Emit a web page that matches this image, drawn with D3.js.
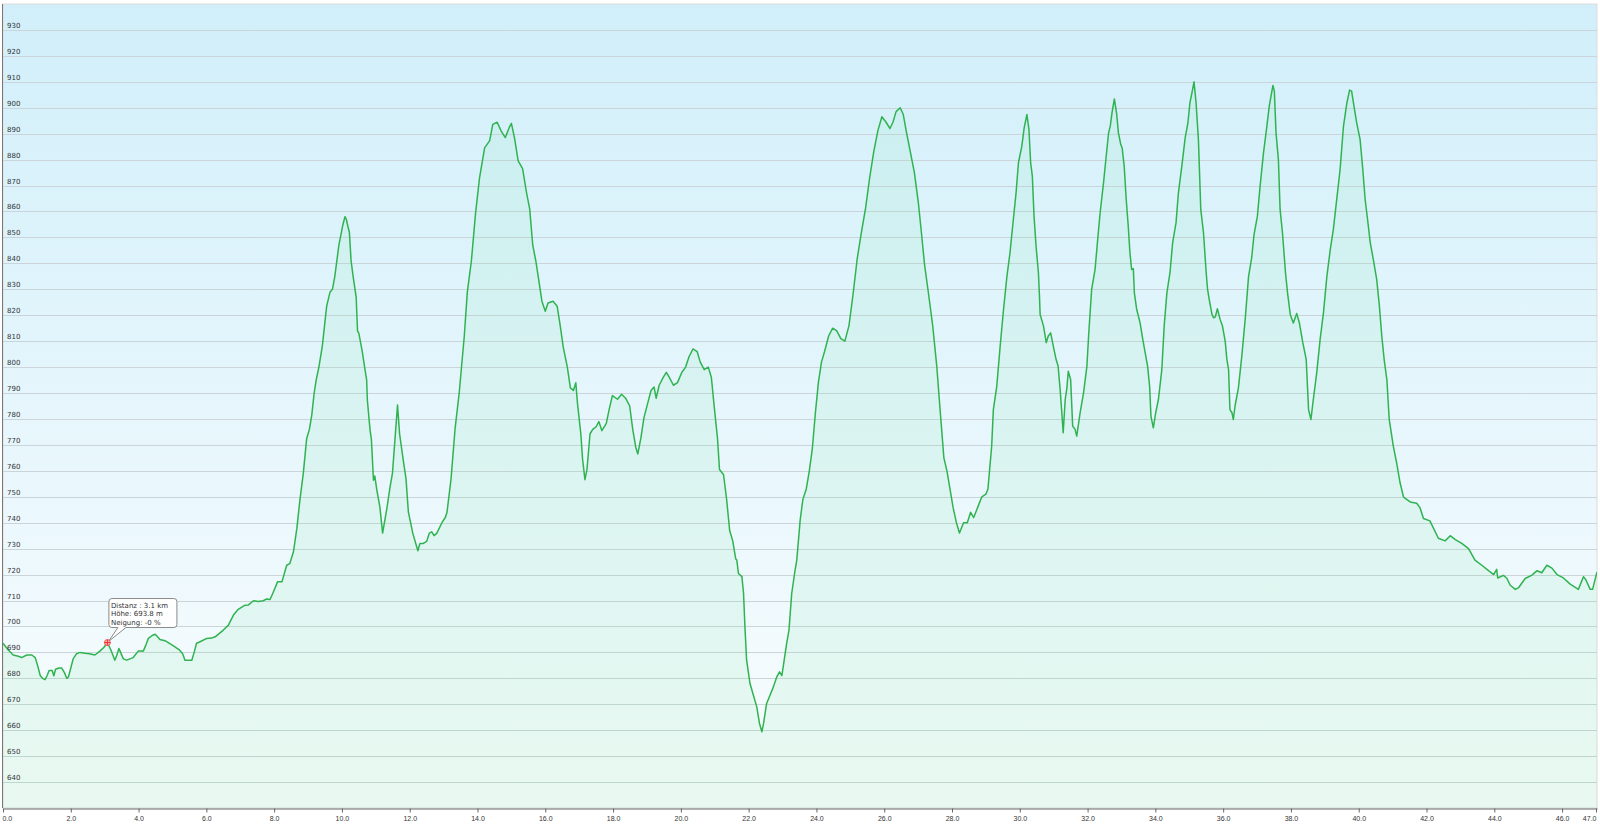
<!DOCTYPE html>
<html>
<head>
  <meta charset="utf-8" />
  <script src="https://cdn.jsdelivr.net/npm/d3@7/dist/d3.min.js"></script>
  <style>
    body { margin: 0; background: #fff; }
    svg { display: block; font-family: Verdana, "DejaVu Sans", sans-serif; }
    .grid line { stroke: #cbd5d9; stroke-width: 1; }
    .ylab { font-size: 7px; fill: #333; }
    .xaxis text { font-size: 7px; fill: #333; }
    .xaxis line, .xaxis path { stroke: #666; }
    .tip text { font-size: 7px; fill: #333; }
  </style>
</head>
<body>
  <svg id="chart" width="1600" height="824"></svg>
  <script>
  // distance along the track (km)
  var distKm = [
    0.00,0.15,0.30,0.45,0.55,0.70,0.85,0.95,1.02,1.10,1.17,1.24,1.30,1.36,1.45,1.50,1.55,1.65,1.73,1.82,1.88,1.93,
    2.00,2.07,2.17,2.27,2.42,2.55,2.71,2.86,2.98,3.08,3.18,3.24,3.30,3.36,3.42,3.47,3.55,3.65,3.84,3.99,
    4.14,4.22,4.29,4.40,4.49,4.56,4.63,4.78,5.03,5.20,5.30,5.37,5.57,5.64,5.71,5.80,
    6.01,6.15,6.26,6.50,6.65,6.80,6.94,7.14,7.24,7.39,7.53,7.68,7.78,7.88,7.98,8.10,8.23,8.37,8.46,8.57,8.67,8.76,8.86,8.96,
    9.04,9.11,9.18,9.24,9.32,9.42,9.55,9.65,9.72,9.79,9.91,10.03,10.09,10.13,10.18,10.22,10.27,10.33,10.42,10.46,10.50,10.60,10.67,
    10.73,10.75,10.83,10.87,10.93,10.97,11.03,11.12,11.20,11.32,11.42,11.49,11.57,11.64,11.70,11.81,11.89,11.96,
    12.09,12.24,12.30,12.40,12.50,12.58,12.65,12.72,12.80,12.95,13.05,13.10,13.22,13.34,13.46,13.61,13.70,13.82,13.94,
    14.06,14.21,14.36,14.45,14.58,14.70,14.82,14.94,15.00,15.09,15.20,15.33,15.45,15.54,15.63,15.72,15.81,15.90,
    16.00,16.08,16.23,16.35,16.44,16.53,16.65,16.74,16.83,16.90,16.95,17.05,17.10,17.17,17.23,17.32,17.40,17.50,17.58,17.67,17.80,17.89,17.98,
    18.13,18.25,18.37,18.49,18.58,18.67,18.73,18.82,18.91,19.03,19.12,19.21,19.27,19.36,19.48,19.57,19.66,19.78,19.90,
    20.03,20.14,20.24,20.36,20.48,20.57,20.69,20.81,20.90,20.99,21.08,21.14,21.26,21.35,21.44,21.53,21.62,
    21.65,21.70,21.80,21.85,21.89,21.94,22.04,22.14,22.24,22.32,22.39,22.44,22.53,22.63,22.73,22.83,22.91,22.98,
    23.02,23.12,23.19,23.27,23.37,23.42,23.52,23.60,23.70,23.79,23.88,23.97,24.06,24.15,24.24,24.36,24.48,24.60,24.72,24.84,24.96,
    25.08,25.20,25.32,25.45,25.57,25.69,25.81,25.93,26.05,26.17,26.26,26.35,26.47,26.56,26.65,26.77,26.89,
    27.01,27.10,27.19,27.31,27.43,27.55,27.64,27.76,27.85,27.94,28.03,28.13,28.22,28.34,28.45,28.55,28.64,28.76,28.88,
    29.00,29.06,29.12,29.17,29.22,29.32,29.42,29.52,29.62,29.71,29.81,29.89,29.96,30.06,30.13,30.21,30.27,30.32,30.37,30.42,30.48,30.55,30.58,30.60,
    30.70,30.78,30.84,30.91,30.99,31.07,31.13,31.19,31.24,31.28,31.34,31.39,31.43,31.50,31.56,31.63,31.68,31.78,31.88,31.98,
    32.03,32.12,32.22,32.29,32.37,32.47,32.57,32.62,32.67,32.72,32.79,32.86,32.91,32.98,33.02,33.08,33.14,33.20,33.25,33.30,33.35,33.38,33.45,
    33.55,33.63,33.70,33.77,33.83,33.87,33.94,34.01,34.09,34.19,34.26,34.34,34.43,34.51,34.61,34.68,34.78,34.88,34.96,
    35.02,35.08,35.14,35.20,35.27,35.34,35.42,35.50,35.54,35.59,35.67,35.72,35.77,35.83,35.91,35.98,36.06,36.11,36.16,36.20,36.26,36.30,36.35,
    36.45,36.55,36.65,36.75,36.84,36.91,37.01,37.09,37.19,37.29,37.36,37.43,37.47,37.51,37.56,37.63,37.68,37.75,37.84,37.90,37.98,
    38.07,38.17,38.25,38.35,38.45,38.52,38.59,38.66,38.76,38.86,38.96,39.06,39.16,39.25,39.35,39.45,39.55,39.65,39.73,39.79,39.86,39.94,
    40.04,40.12,40.19,40.26,40.34,40.43,40.53,40.61,40.68,40.75,40.83,40.90,41.02,41.12,41.22,41.32,41.37,41.52,41.71,41.81,41.91,
    42.10,42.35,42.55,42.70,42.85,43.04,43.24,43.43,43.63,43.83,43.98,44.07,44.10,44.27,44.37,44.47,44.62,44.72,44.91,
    45.11,45.26,45.40,45.55,45.70,45.85,46.04,46.24,46.48,46.63,46.70,46.83,46.90,47.03
  ];

  // elevation (m)
  var heightM = [
    693.5,691,689,688.5,688,689,689,688,685,681,680,679.5,681,683,683,681,683.5,684,684,682,680,680.5,
    684,687.5,689.5,690,689.7,689.5,689,690.5,692,693.8,691,689,687,689,691.5,690,687.5,687,688,690.5,
    690.5,693,695.4,696.5,697,696,695,694.5,692.5,691,689.5,687,687,690,693.5,694,
    695.4,695.5,696,698.6,700.5,704.4,706.6,708.2,708.3,709.9,709.6,709.9,710.6,710.4,713.4,717.2,717.2,723.6,724.2,728.8,737.8,748.7,759,772.5,
    776,781.5,789.9,795,800,808,823.5,829,830,835,847,855,858,857,854,852,841,835,827,814,813,806,800,
    795,787.3,775.7,772,756.4,758,752.6,746,736,745,753.8,759,773,785.4,774.4,764,757,744.2,
    736,729.2,732,732,732.8,736,736.5,735,736,740,742,744,757,776.5,790,812,829,841,859,
    873,884.5,887.3,893.6,894.4,891,888.5,892.5,894,888.5,879.5,876.5,867,861,847,841,833.3,825.4,
    821.5,824.7,825.4,823.5,816,807.7,800,792,791,794,786,774,764.5,756.6,760.5,774.3,776,777,779,775.5,778.3,784,789,
    787.6,789.5,788,785,776,769,766.5,772.6,780.4,786.5,791,792.3,788,793,796,798,796,793,794,
    798,800,804,807,806,802,799,800,796,784,772.6,760.5,758.5,749,737,733,726,
    725.6,720.4,719.2,712.7,699.9,687,678,673.5,669,662.6,659.4,662.6,670.3,673.5,676.7,680.6,682.5,681,
    684.5,693.4,698.6,712.7,721.7,725.6,741,749,753,760,768.7,782.5,794.3,802,806,812,815,814,811,810,816,
    828,841.5,851.5,861.3,873,883,891,896.5,894.5,892,894.5,898.5,900,897.5,891,883,875,
    863,851.5,839.5,828,816,800.4,785,765,760,753,746,740,736,740,740,744,742,746,750,
    751,753,762,769.5,783.6,792.6,808,822.2,835,844,857,867.2,878.8,885.2,892.3,897.4,891.6,878.8,873.6,858.2,846.6,836.3,827.4,820.3,
    815.8,809.4,812,813.2,808,803,800.4,791.4,782.4,774.7,787.5,792,798.4,795.2,777.3,776,773.4,782.4,790,800.4,
    812,830,837.6,848,859.5,871,884,890.3,893,898,903.4,897.4,890.3,885.8,884.5,877.5,864.6,854.3,844,837.6,838,828.6,822.2,
    817,810.6,805.5,800.4,792.6,781,776.6,782.4,787.5,799,815.8,828.6,836.3,848,855.7,867.2,877.5,888.5,894.2,
    902,905.8,910,902,887.8,860.8,851.8,836.3,830,826,820.3,819,819.4,822.5,818.4,815.8,810,803,799,783.6,782.4,779.8,785,
    792,804.2,818.4,835,842,851,858.2,869.8,882.6,892.9,900.6,905.8,908.6,906.4,890.3,880,860.8,851.8,836.3,828.6,820.3,
    817,820.7,817,809.4,803,783.6,779.8,787.5,797.8,810.6,821,835,845.3,853,864.6,876.2,892.9,901.9,906.8,906.4,900.6,894.2,
    887.8,876.2,864.6,857,848,841.5,833.8,823.5,812,803,795.2,779.8,769.5,763,755.4,750,749.4,748,747.5,745.7,741.6,
    740.7,734,733,735,733.5,732,730,725.6,723.6,721.5,720,722,718.7,719.7,718.6,715.9,714.3,715,718.5,
    719.8,721.5,720.7,723.6,722.5,720,718.7,716.3,714.3,719.2,718,714.3,714.3,721
  ];

  var yTicks = d3.range(640, 931, 10);
  var xTicks = [0,2,4,6,8,10,12,14,16,18,20,22,24,26,28,30,32,34,36,38,40,42,44,46,47];

  // hovered point shown in the tooltip
  var tipKm = 3.08, tipM = 693.8;
  var tipLines = ["Distanz  : 3.1 km", "Höhe: 693.8 m", "Neigung: -0 %"];

  var svg = d3.select('#chart');
  var plotL = 3, plotR = 1597, plotT = 4, plotB = 808;

  var x = d3.scaleLinear().domain([0, 47.03]).range([plotL, plotR]);
  var y = d3.scaleLinear().domain([630, 940]).range([plotB, plotT]);

  var data = distKm.map(function(d, i) { return {km: d, m: heightM[i]}; });

  var defs = svg.append('defs');
  var bg = defs.append('linearGradient').attr('id', 'bg')
      .attr('x1', 0).attr('y1', 0).attr('x2', 0).attr('y2', 1);
  bg.append('stop').attr('offset', '0%').attr('stop-color', '#d1effa');
  bg.append('stop').attr('offset', '100%').attr('stop-color', '#fafdfe');

  var fillG = defs.append('linearGradient').attr('id', 'fillG')
      .attr('x1', 0).attr('y1', 0).attr('x2', 0).attr('y2', 1);
  fillG.append('stop').attr('offset', '0%').attr('stop-color', '#6fe0a0').attr('stop-opacity', 0.1);
  fillG.append('stop').attr('offset', '100%').attr('stop-color', '#4fd67c').attr('stop-opacity', 0.1);

  defs.append('clipPath').attr('id', 'plotClip')
    .append('rect').attr('x', plotL).attr('y', plotT).attr('width', plotR - plotL).attr('height', plotB - plotT);

  // plot background + frame
  svg.append('rect')
      .attr('x', plotL).attr('y', plotT)
      .attr('width', plotR - plotL).attr('height', plotB - plotT)
      .attr('fill', 'url(#bg)')
      .attr('stroke', '#dcdcdc');

  // grid
  svg.append('g').attr('class', 'grid')
    .selectAll('line').data(yTicks).enter().append('line')
      .attr('x1', plotL).attr('x2', plotR)
      .attr('y1', function(d) { return Math.round(y(d)) + 0.5; })
      .attr('y2', function(d) { return Math.round(y(d)) + 0.5; });

  var plot = svg.append('g').attr('clip-path', 'url(#plotClip)');

  var area = d3.area()
      .x(function(d) { return x(d.km); })
      .y0(plotB)
      .y1(function(d) { return y(d.m); });

  var line = d3.line()
      .x(function(d) { return x(d.km); })
      .y(function(d) { return y(d.m); });

  plot.append('path').datum(data)
      .attr('d', area)
      .attr('fill', 'url(#fillG)');

  plot.append('path').datum(data)
      .attr('d', line)
      .attr('fill', 'none')
      .attr('stroke', '#2fb350')
      .attr('stroke-width', 1.5)
      .attr('stroke-linejoin', 'round');

  // y labels sit inside the plot, just above their grid line
  svg.append('g').selectAll('text').data(yTicks).enter().append('text')
      .attr('class', 'ylab')
      .attr('x', 7)
      .attr('y', function(d) { return Math.round(y(d)) - 2; })
      .text(function(d) { return d; });

  // axes lines
  svg.append('line')
      .attr('x1', 2.5).attr('x2', 2.5).attr('y1', plotT).attr('y2', plotB)
      .attr('stroke', '#777');

  var xAxis = svg.append('g').attr('class', 'xaxis')
      .attr('transform', 'translate(0,' + (plotB + 0.5) + ')')
      .call(d3.axisBottom(x).tickValues(xTicks).tickSize(4).tickSizeOuter(0)
        .tickFormat(d3.format('.1f')));
  xAxis.selectAll('text').attr('dy', null).attr('y', 12);
  xAxis.select('.domain').attr('stroke', '#777');
  xAxis.selectAll('.tick').filter(function(d) { return d === 0; })
      .select('text').attr('text-anchor', 'start').attr('x', -1);
  xAxis.selectAll('.tick').filter(function(d) { return d === 47; })
      .select('text').attr('text-anchor', 'end').attr('x', 0);

  // tooltip
  var px = x(tipKm), py = y(tipM);
  var tip = svg.append('g').attr('class', 'tip');
  var bx = px + 1.5, by = py - 44, bw = 68, bh = 29;
  tip.append('path')
      .attr('d', 'M' + (bx + 3) + ',' + by + 'H' + (bx + bw - 3) + 'Q' + (bx + bw) + ',' + by + ' ' + (bx + bw) + ',' + (by + 3)
        + 'V' + (by + bh - 3) + 'Q' + (bx + bw) + ',' + (by + bh) + ' ' + (bx + bw - 3) + ',' + (by + bh)
        + 'H' + (bx + 17) + 'L' + (px + 1) + ',' + (py - 1) + 'L' + (bx + 9) + ',' + (by + bh)
        + 'H' + (bx + 3) + 'Q' + bx + ',' + (by + bh) + ' ' + bx + ',' + (by + bh - 3)
        + 'V' + (by + 3) + 'Q' + bx + ',' + by + ' ' + (bx + 3) + ',' + by + 'Z')
      .attr('fill', '#fff')
      .attr('stroke', '#8a8a8a')
      .attr('stroke-width', 1);
  tip.selectAll('text').data(tipLines).enter().append('text')
      .attr('x', bx + 2)
      .attr('y', function(d, i) { return by + 9.5 + i * 8.4; })
      .text(function(d) { return d; });

  // hover marker
  svg.append('circle').attr('cx', px).attr('cy', py).attr('r', 3)
      .attr('fill', '#ffb0b0').attr('stroke', '#ff4040').attr('stroke-width', 0.8);
  svg.append('path')
      .attr('d', 'M' + (px - 3) + ',' + py + 'H' + (px + 3) + 'M' + px + ',' + (py - 3) + 'V' + (py + 3))
      .attr('stroke', '#e02020').attr('stroke-width', 0.8);
  </script>
</body>
</html>
